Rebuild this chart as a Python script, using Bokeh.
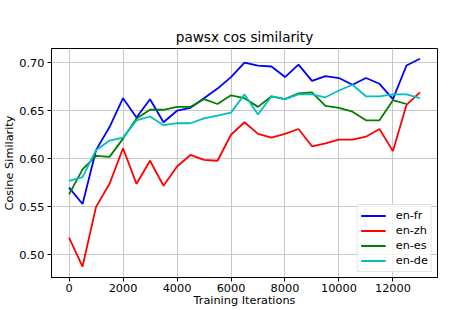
from bokeh.plotting import figure
from bokeh.models import Range1d, FixedTicker, PrintfTickFormatter, Legend, LegendItem
from bokeh.embed import file_html
from bokeh.resources import INLINE

iterations = [0, 500, 1000, 1500, 2000, 2500, 3000, 3500, 4000, 4500, 5000, 5500, 6000,
              6500, 7000, 7500, 8000, 8500, 9000, 9500, 10000, 10500, 11000, 11500, 12000,
              12500, 13000]

en_fr = [0.570, 0.553, 0.609, 0.633, 0.663, 0.643, 0.662, 0.638, 0.650, 0.653, 0.663, 0.673,
         0.685, 0.700, 0.697, 0.696, 0.685, 0.698, 0.681, 0.686, 0.684, 0.677, 0.684, 0.678,
         0.662, 0.697, 0.704]
en_zh = [0.518, 0.488, 0.550, 0.574, 0.611, 0.574, 0.598, 0.572, 0.592, 0.604, 0.599, 0.598,
         0.625, 0.638, 0.626, 0.622, 0.626, 0.631, 0.613, 0.616, 0.620, 0.620, 0.623, 0.631,
         0.608, 0.656, 0.669]
en_es = [0.563, 0.589, 0.603, 0.602, 0.621, 0.642, 0.651, 0.651, 0.654, 0.654, 0.662, 0.657,
         0.666, 0.663, 0.654, 0.665, 0.662, 0.668, 0.669, 0.655, 0.653, 0.649, 0.640, 0.640,
         0.661, 0.657]
en_de = [0.577, 0.581, 0.609, 0.619, 0.622, 0.640, 0.644, 0.635, 0.637, 0.637, 0.642, 0.645,
         0.648, 0.667, 0.646, 0.665, 0.662, 0.667, 0.667, 0.664, 0.671, 0.677, 0.665, 0.665,
         0.667, 0.667, 0.663]

series = [("en-fr", en_fr, "#0000ff"), ("en-zh", en_zh, "#ff0000"),
          ("en-es", en_es, "#008000"), ("en-de", en_de, "#00bfbf")]

x_ticks = [0, 2000, 4000, 6000, 8000, 10000, 12000]
y_ticks = [0.50, 0.55, 0.60, 0.65, 0.70]
x_label = "Training Iterations"
y_label = "Cosine Similarity"

FONT = "DejaVu Sans"

p = figure(width=452, height=310, output_backend="svg", toolbar_location=None,
           x_range=Range1d(-650, 13650), y_range=Range1d(0.4766, 0.7147),
           title="pawsx cos similarity",
           min_border_left=50, min_border_right=15, min_border_top=48, min_border_bottom=33)

p.title.text_font = FONT
p.title.text_font_size = "13.6px"
p.title.text_font_style = "normal"
p.title.align = "center"
p.title.standoff = 8
p.title.text_color = "black"

p.outline_line_color = "black"
p.outline_line_width = 1
p.background_fill_color = "white"
p.border_fill_color = "white"

p.xaxis.ticker = FixedTicker(ticks=x_ticks)
p.yaxis.ticker = FixedTicker(ticks=y_ticks)
p.yaxis.formatter = PrintfTickFormatter(format="%.2f")
p.xaxis.axis_label = x_label
p.yaxis.axis_label = y_label

for ax in (p.xaxis, p.yaxis):
    ax.axis_label_text_font = FONT
    ax.axis_label_text_font_size = "11.3px"
    ax.axis_label_text_font_style = "normal"
    ax.axis_label_text_color = "black"
    ax.major_label_text_font = FONT
    ax.major_label_text_font_size = "11.3px"
    ax.major_label_text_color = "black"
    ax.axis_line_color = "black"
    ax.major_tick_line_color = "black"
    ax.major_tick_out = 4
    ax.major_tick_in = 0
    ax.minor_tick_line_color = None
p.xaxis.major_label_standoff = 2
p.xaxis.axis_label_standoff = -1
p.yaxis.major_label_standoff = 3
p.yaxis.axis_label_standoff = 0

p.grid.grid_line_color = "#c8c8c8"
p.grid.grid_line_width = 1

items = []
for name, vals, color in series:
    r = p.line(iterations[:len(vals)], vals, line_color=color, line_width=1.8)
    items.append(LegendItem(label=name, renderers=[r]))

legend = Legend(items=items, location="bottom_right")
legend.label_text_font = FONT
legend.label_text_font_size = "11.3px"
legend.label_text_color = "black"
legend.glyph_width = 25
legend.glyph_height = 15
legend.label_height = 15
legend.label_standoff = 10
legend.spacing = 0
legend.padding = 3
legend.margin = 5
legend.border_line_color = "#cccccc"
legend.background_fill_alpha = 0.8
p.add_layout(legend, "center")

open("out.html", "w").write(file_html(p, INLINE))
